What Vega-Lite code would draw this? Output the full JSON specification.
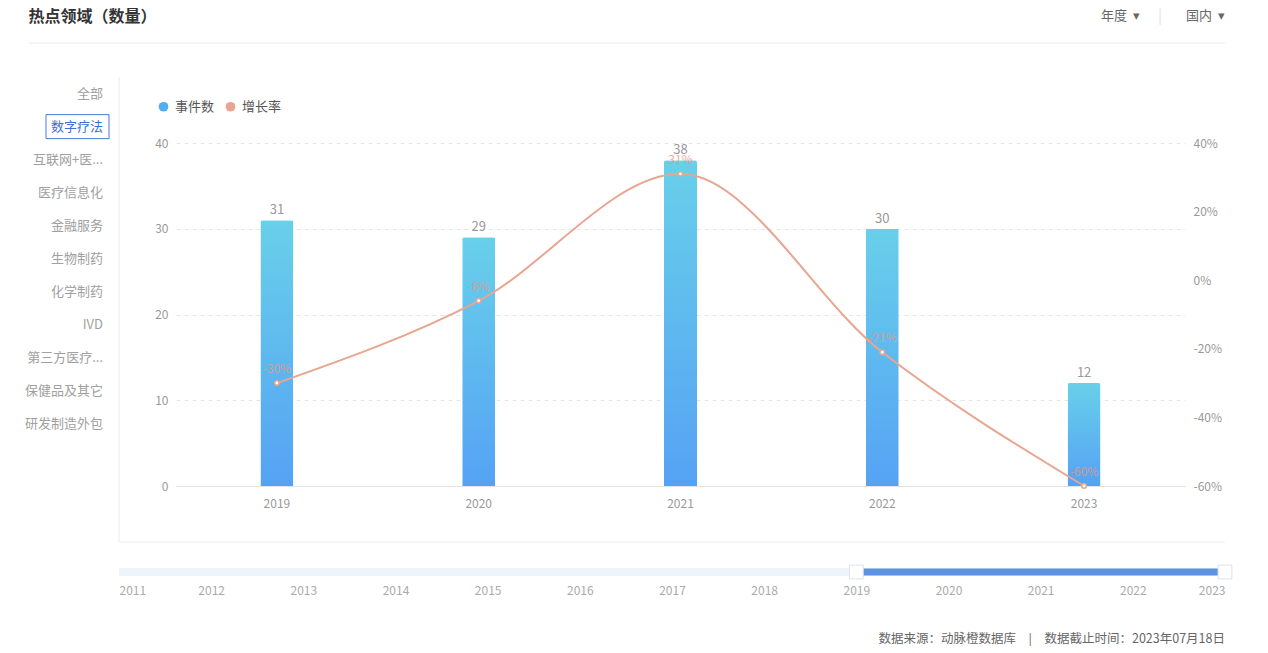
{
  "$schema": "https://vega.github.io/schema/vega-lite/v6.json",
  "padding": {"left": 24, "top": 9, "right": 0, "bottom": 0},
  "config": {
    "view": {"stroke": null},
    "font": "Noto Sans CJK SC",
    "locale": {"number": {"decimal": ".", "thousands": ",", "grouping": [3], "currency": ["", ""], "minus": "-"}}
  },
  "datasets": {
    "events": [
      {"year": "2019", "count": 31, "growth": -0.30},
      {"year": "2020", "count": 29, "growth": -0.06},
      {"year": "2021", "count": 38, "growth": 0.31},
      {"year": "2022", "count": 30, "growth": -0.21},
      {"year": "2023", "count": 12, "growth": -0.60}
    ],
    "categories": [
      {"cat": "全部"}, {"cat": "数字疗法"}, {"cat": "互联网+医..."}, {"cat": "医疗信息化"},
      {"cat": "金融服务"}, {"cat": "生物制药"}, {"cat": "化学制药"}, {"cat": "IVD"},
      {"cat": "第三方医疗..."}, {"cat": "保健品及其它"}, {"cat": "研发制造外包"}
    ],
    "fullRange": [{"from": 2011, "to": 2023}],
    "selectedRange": [{"from": 2019, "to": 2023}],
    "handles": [{"year": 2019}, {"year": 2023}],
    "blank": [{}]
  },
  "bounds": "flush",
  "spacing": 35,
  "vconcat": [
    {
      "bounds": "flush",
      "spacing": 0,
      "hconcat": [
        {
          "width": 1032, "height": 1,
          "data": {"name": "blank"},
          "title": {"text": "热点领域（数量）", "anchor": "start", "fontSize": 16, "fontWeight": "bold", "color": "#333333", "offset": 17},
          "mark": {"type": "rule", "color": "#ebebeb"},
          "encoding": {"y": {"value": "height"}}
        },
        {
          "width": 79, "height": 1,
          "data": {"name": "blank"},
          "title": {"text": "年度\u2002▾", "anchor": "end", "fontSize": 13, "fontWeight": "normal", "color": "#666666", "offset": 19},
          "mark": {"type": "rule", "color": "#ebebeb"},
          "encoding": {"y": {"value": "height"}}
        },
        {
          "width": 40, "height": 1,
          "data": {"name": "blank"},
          "title": {"text": "|", "anchor": "middle", "fontSize": 15, "fontWeight": "normal", "color": "#e3e3e3", "offset": 18},
          "mark": {"type": "rule", "color": "#ebebeb"},
          "encoding": {"y": {"value": "height"}}
        },
        {
          "width": 45, "height": 1,
          "data": {"name": "blank"},
          "title": {"text": "国内\u2002▾", "anchor": "end", "fontSize": 13, "fontWeight": "normal", "color": "#666666", "offset": 19},
          "mark": {"type": "rule", "color": "#ebebeb"},
          "encoding": {"y": {"value": "height"}}
        }
      ]
    },
    {
      "bounds": "flush",
      "spacing": 0,
      "hconcat": [
        {
          "width": 90, "height": 465,
          "layer": [
            {
              "data": {"name": "categories"},
              "mark": {"type": "text", "align": "right", "baseline": "middle", "dx": 29, "fontSize": 13},
              "encoding": {
                "y": {"field": "cat", "type": "nominal", "sort": null,
                      "scale": {"type": "point", "domain": ["全部", "数字疗法", "互联网+医...", "医疗信息化", "金融服务", "生物制药", "化学制药", "IVD", "第三方医疗...", "保健品及其它", "研发制造外包"], "range": [0, 364], "padding": 0.5},
                      "axis": null},
                "text": {"field": "cat"},
                "color": {"condition": {"test": "datum.cat === '数字疗法'", "value": "#3b6fd6"}, "value": "#a0a0a0"}
              }
            },
            {
              "data": {"name": "categories"},
              "transform": [{"filter": "datum.cat === '数字疗法'"}],
              "mark": {"type": "point", "shape": "M-2.333,-1L2.917,-1L2.917,1L-2.333,1Z", "size": 576, "filled": false, "stroke": "#4a7ad6", "strokeWidth": 1, "opacity": 1},
              "encoding": {
                "y": {"field": "cat", "type": "nominal", "sort": null,
                      "scale": {"type": "point", "domain": ["全部", "数字疗法", "互联网+医...", "医疗信息化", "金融服务", "生物制药", "化学制药", "IVD", "第三方医疗...", "保健品及其它", "研发制造外包"], "range": [0, 364], "padding": 0.5},
                      "axis": null}
              }
            },
            {
              "data": {"name": "blank"},
              "mark": {"type": "rule", "color": "#ececec"},
              "encoding": {"x": {"value": "width"}}
            }
          ]
        },
        {
          "bounds": "flush",
          "spacing": 26,
          "vconcat": [
            {
              "width": 1106, "height": 465,
              "layer": [
                {
                  "data": {"name": "events"},
                  "layer": [
                    {
                      "mark": {"type": "bar", "width": 33, "cornerRadiusTopLeft": 2, "cornerRadiusTopRight": 2,
                               "color": {"gradient": "linear", "x1": 0, "y1": 0, "x2": 0, "y2": 1, "stops": [{"offset": 0, "color": "#68d0ea"}, {"offset": 1, "color": "#55a2f4"}]}},
                      "encoding": {
                        "x": {"field": "year", "type": "nominal", "sort": null,
                              "scale": {"type": "band", "range": [57, 1066], "paddingInner": 0, "paddingOuter": 0},
                              "axis": {"orient": "bottom", "offset": -56, "title": null, "domainColor": "#e3e3e3", "ticks": false, "labelColor": "#999999", "labelFontSize": 12, "labelPadding": 12, "labelAngle": 0, "grid": false}},
                        "y": {"field": "count", "type": "quantitative",
                              "scale": {"domain": [0, 40], "range": [409, 66], "nice": false},
                              "axis": {"orient": "left", "offset": -57, "title": null, "domain": false, "ticks": false, "values": [0, 10, 20, 30, 40], "labelColor": "#999999", "labelFontSize": 12, "labelPadding": 8, "grid": true, "gridColor": "#e6e6e6", "gridDash": [4, 4]}}
                      }
                    },
                    {
                      "mark": {"type": "circle", "opacity": 0},
                      "encoding": {
                        "x": {"field": "year", "type": "nominal", "sort": null, "scale": {"type": "band", "range": [57, 1066], "paddingInner": 0, "paddingOuter": 0}},
                        "y": {"field": "count", "type": "quantitative", "scale": {"domain": [0, 40], "range": [409, 66], "nice": false}},
                        "color": {"datum": "事件数", "type": "nominal",
                                  "scale": {"domain": ["事件数", "增长率"], "range": ["#52aef0", "#e8a58f"]},
                                  "legend": {"orient": "none", "legendX": 128, "legendY": 58, "direction": "horizontal", "title": null, "symbolType": "circle", "symbolSize": 95, "symbolOpacity": 1, "symbolStrokeWidth": 0, "labelFontSize": 13, "labelColor": "#555555", "columnPadding": 9, "labelOffset": 5, "padding": 0}}
                      }
                    },
                    {
                      "mark": {"type": "text", "baseline": "bottom", "dy": -3, "fontSize": 13, "color": "#999999"},
                      "encoding": {
                        "x": {"field": "year", "type": "nominal", "sort": null, "scale": {"type": "band", "range": [57, 1066], "paddingInner": 0, "paddingOuter": 0}},
                        "y": {"field": "count", "type": "quantitative", "scale": {"domain": [0, 40], "range": [409, 66], "nice": false}},
                        "text": {"field": "count", "type": "quantitative"}
                      }
                    }
                  ]
                },
                {
                  "data": {"name": "events"},
                  "layer": [
                    {
                      "mark": {"type": "line", "interpolate": "monotone", "color": "#e8a58f", "strokeWidth": 2,
                               "point": {"filled": false, "fill": "white", "stroke": "#e8a58f", "size": 20, "strokeWidth": 1.5, "opacity": 1}},
                      "encoding": {
                        "x": {"field": "year", "type": "nominal", "sort": null, "scale": {"type": "band", "range": [57, 1066], "paddingInner": 0, "paddingOuter": 0}},
                        "y": {"field": "growth", "type": "quantitative",
                              "scale": {"domain": [-0.6, 0.4], "range": [409, 66], "nice": false, "zero": false},
                              "axis": {"orient": "right", "offset": -40, "title": null, "domain": false, "ticks": false, "values": [-0.6, -0.4, -0.2, 0, 0.2, 0.4], "format": ".0%", "labelColor": "#999999", "labelFontSize": 12, "labelPadding": 8, "grid": false}}
                      }
                    },
                    {
                      "mark": {"type": "text", "baseline": "bottom", "dy": -7, "fontSize": 12, "color": "#e49a88", "opacity": 0.8},
                      "encoding": {
                        "x": {"field": "year", "type": "nominal", "sort": null, "scale": {"type": "band", "range": [57, 1066], "paddingInner": 0, "paddingOuter": 0}},
                        "y": {"field": "growth", "type": "quantitative", "scale": {"domain": [-0.6, 0.4], "range": [409, 66], "nice": false, "zero": false}},
                        "text": {"field": "growth", "type": "quantitative", "format": ".0%"}
                      }
                    }
                  ]
                },
                {
                  "data": {"name": "blank"},
                  "mark": {"type": "rule", "color": "#ececec"},
                  "encoding": {"y": {"value": "height"}}
                }
              ],
              "resolve": {"scale": {"y": "independent"}, "axis": {"y": "independent"}}
            },
            {
              "width": 1106, "height": 8,
              "title": {"text": "数据来源：动脉橙数据库\u3000|\u3000数据截止时间：2023年07月18日", "orient": "bottom", "anchor": "end", "frame": "group", "fontSize": 12.5, "fontWeight": "normal", "color": "#666666", "offset": 37},
              "layer": [
                {
                  "data": {"name": "fullRange"},
                  "mark": {"type": "rule", "color": "#eef4fc", "strokeWidth": 8, "strokeCap": "butt"},
                  "encoding": {
                    "x": {"field": "from", "type": "quantitative",
                          "scale": {"domain": [2011, 2023], "nice": false, "zero": false},
                          "axis": {"orient": "bottom", "title": null, "values": [2011, 2012, 2013, 2014, 2015, 2016, 2017, 2018, 2019, 2020, 2021, 2022, 2023], "format": "d", "labelFlush": true, "domain": false, "ticks": false, "grid": false, "labelColor": "#aaaaaa", "labelFontSize": 12, "labelPadding": 9}},
                    "x2": {"field": "to"}
                  }
                },
                {
                  "data": {"name": "selectedRange"},
                  "mark": {"type": "rule", "color": "#5d94e2", "strokeWidth": 7, "strokeCap": "butt"},
                  "encoding": {
                    "x": {"field": "from", "type": "quantitative", "scale": {"domain": [2011, 2023], "nice": false, "zero": false}},
                    "x2": {"field": "to"}
                  }
                },
                {
                  "data": {"name": "handles"},
                  "mark": {"type": "point", "shape": "square", "size": 190, "filled": true, "fill": "white", "stroke": "#dde3ec", "strokeWidth": 1, "opacity": 1},
                  "encoding": {
                    "x": {"field": "year", "type": "quantitative", "scale": {"domain": [2011, 2023], "nice": false, "zero": false}}
                  }
                }
              ]
            }
          ]
        }
      ]
    }
  ]
}
